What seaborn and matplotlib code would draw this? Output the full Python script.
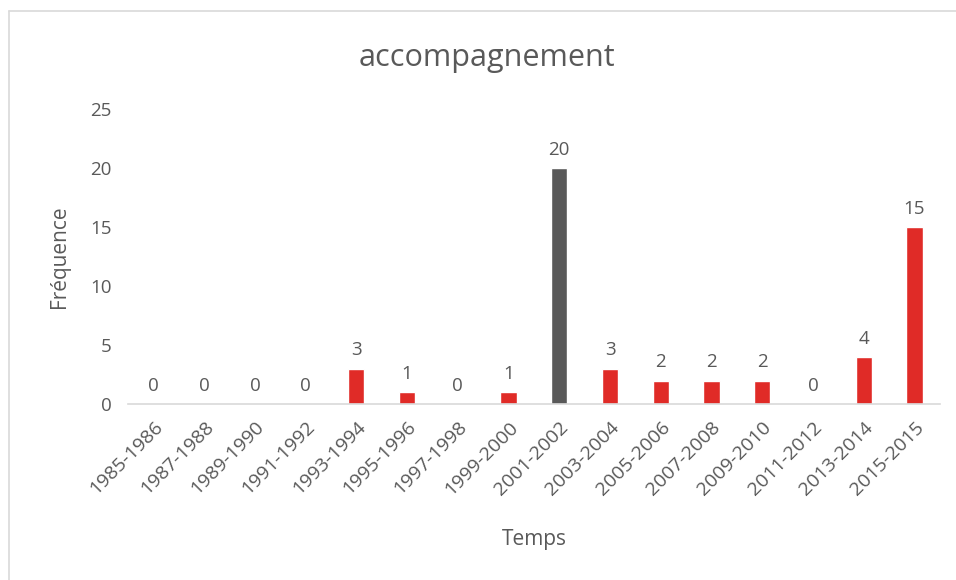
import pandas as pd
import numpy as np
import seaborn as sns
import matplotlib.pyplot as plt
from matplotlib.lines import Line2D

# données
periodes = ["1985-1986", "1987-1988", "1989-1990", "1991-1992", "1993-1994",
            "1995-1996", "1997-1998", "1999-2000", "2001-2002", "2003-2004",
            "2005-2006", "2007-2008", "2009-2010", "2011-2012", "2013-2014",
            "2015-2015"]
frequences = [0, 0, 0, 0, 3, 1, 0, 1, 20, 3, 2, 2, 2, 0, 4, 15]
couleurs = ["#e02b27"] * 8 + ["#595959"] + ["#e02b27"] * 7

df = pd.DataFrame({"Temps": periodes, "Fréquence": frequences})

sns.set_style("white")
plt.rcParams['font.family'] = ['Open Sans', 'DejaVu Sans']
txt = "#595959"

fig = plt.figure(figsize=(9.56, 5.8), dpi=100)
ax = fig.add_axes([0.134, 0.303, 0.849, 0.509])

sns.barplot(data=df, x="Temps", y="Fréquence", hue="Temps",
            palette=couleurs, legend=False, width=0.32, saturation=1, ax=ax)

ax.set_ylim(0, 25)
ax.set_yticks(range(0, 26, 5))
ax.set_xlim(-0.5, len(periodes) - 0.5)

for i, v in enumerate(frequences):
    ax.text(i, v + 0.8, str(v), ha="center", va="bottom", fontsize=13.5, color=txt)

for s in ["top", "right", "left"]:
    ax.spines[s].set_visible(False)
ax.spines["bottom"].set_color("#d9d9d9")
ax.spines["bottom"].set_linewidth(1.2)

ax.tick_params(axis="both", length=0, colors=txt, labelsize=13.5)
ax.tick_params(axis="x", labelsize=14, pad=10)
plt.setp(ax.get_xticklabels(), rotation=45, ha="right", rotation_mode="anchor")
ax.tick_params(axis="y", pad=12)

ax.set_xlabel("Temps", fontsize=15, color=txt, labelpad=22)
ax.set_ylabel("Fréquence", fontsize=15, color=txt, labelpad=14)
fig.text(0.509, 0.90, "accompagnement", ha="center", va="center",
         fontsize=22, color=txt)

# cadre de la zone de graphique (haut et gauche visibles)
fig.add_artist(Line2D([0.009, 1.0], [0.981, 0.981], color="#d9d9d9", lw=1.2,
                      transform=fig.transFigure))
fig.add_artist(Line2D([0.009, 0.009], [0.0, 0.981], color="#d9d9d9", lw=1.2,
                      transform=fig.transFigure))

fig.savefig("out.png", dpi=100, facecolor="white")
